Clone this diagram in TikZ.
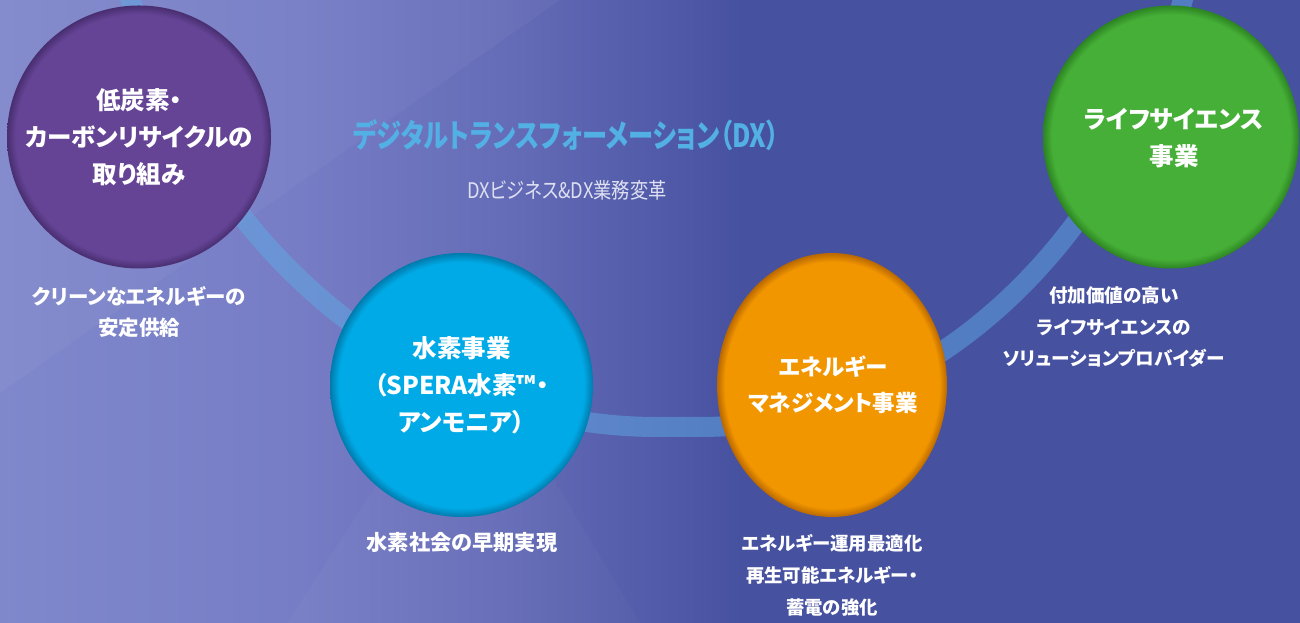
\documentclass[tikz,border=0pt]{standalone}
\usepackage{fontspec}
\usetikzlibrary{shapes.geometric}
\setmainfont{Noto Sans CJK JP}[RawFeature=+palt]
\newfontfamily\condfont{Noto Sans CJK JP}[RawFeature=+palt, FakeStretch=0.79]
\newfontfamily\subfont{Noto Sans CJK JP}[RawFeature=+palt, FakeStretch=0.85]
\definecolor{bgA}{RGB}{128,136,204}
\definecolor{bgB}{RGB}{118,125,197}
\definecolor{bgC}{RGB}{102,109,184}
\definecolor{bgD}{RGB}{70,81,160}
\definecolor{ringc}{RGB}{95,170,228}
\definecolor{titlec}{RGB}{82,176,228}
\definecolor{subc}{RGB}{222,224,242}
\definecolor{cPur}{RGB}{101,68,150}
\definecolor{cPurD}{RGB}{72,46,112}
\definecolor{cBlu}{RGB}{0,170,230}
\definecolor{cBluD}{RGB}{0,122,172}
\definecolor{cOra}{RGB}{242,150,0}
\definecolor{cOraD}{RGB}{185,104,0}
\definecolor{cGre}{RGB}{70,175,55}
\definecolor{cGreD}{RGB}{44,132,34}
\pgfdeclareradialshading{ballpur}{\pgfpoint{0bp}{0bp}}{color(0bp)=(cPur); color(23.3bp)=(cPur); color(25bp)=(cPurD); color(50bp)=(cPurD)}
\pgfdeclareradialshading{ballblu}{\pgfpoint{0bp}{0bp}}{color(0bp)=(cBlu); color(23.3bp)=(cBlu); color(25bp)=(cBluD); color(50bp)=(cBluD)}
\pgfdeclareradialshading{ballora}{\pgfpoint{0bp}{0bp}}{color(0bp)=(cOra); color(23.3bp)=(cOra); color(25bp)=(cOraD); color(50bp)=(cOraD)}
\pgfdeclareradialshading{ballgre}{\pgfpoint{0bp}{0bp}}{color(0bp)=(cGre); color(23.3bp)=(cGre); color(25bp)=(cGreD); color(50bp)=(cGreD)}
\tikzset{
  ball/.style={ellipse, inner sep=0pt, outer sep=0pt, shade},
  balltext/.style={text=white, align=center, inner sep=0pt,
    font=\fontsize{24.5}{37}\selectfont\bfseries},
  lbl/.style={text=white, align=center, inner sep=0pt,
    font=\fontsize{20.5}{31}\selectfont\bfseries},
  ringline/.style={draw=ringc, line width=20pt, opacity=0.5}
}
\begin{document}
\begin{tikzpicture}[x=1pt,y=1pt]
\useasboundingbox (0,0) rectangle (1300,623);
\begin{scope}
\clip (0,0) rectangle (1300,623);
% background
\shade[left color=bgA, right color=bgB] (0,0) rectangle (301,623);
\shade[left color=bgB, right color=bgC] (300,0) rectangle (501,623);
\shade[left color=bgC, right color=bgD] (500,0) rectangle (741,623);
\fill[bgD] (740,0) rectangle (1300,623);
\fill[white, opacity=0.035] (0,623) -- (560,623) -- (0,230) -- cycle;
\fill[white, opacity=0.025] (287,0) -- (470,282) -- (640,0) -- cycle;
% ring
\draw[ringline] (657pt,826pt) ++(195:556pt and 630pt)
  arc[start angle=195, end angle=270, x radius=556pt, y radius=630pt]
  -- (700,196)
  arc[start angle=270, end angle=347, x radius=510pt, y radius=630pt];
% circles
\node[ball, shading=ballpur, minimum width=264pt, minimum height=263pt] (pur) at (139,486) {};
\node[ball, shading=ballblu, minimum width=263pt, minimum height=264pt] (blu) at (461.5,238) {};
\node[ball, shading=ballora, minimum width=230pt, minimum height=264pt] (ora) at (832,238) {};
\node[ball, shading=ballgre, minimum width=256pt, minimum height=263pt] (gre) at (1171,486) {};
\node[balltext] (tpur) at (pur.center) {低炭素・\\カーボンリサイクルの\\取り組み};
\node[balltext] (tblu) at (blu.center) {水素事業\\（SPERA水素™・\\アンモニア）};
\node[balltext, font=\fontsize{22.5}{36}\selectfont\bfseries] (tora) at (833,238) {エネルギー\\マネジメント事業};
\node[balltext] (tgre) at (1174,485) {ライフサイエンス\\事業};
% titles
\node[text=titlec, inner sep=0pt, font=\condfont\bfseries\fontsize{32}{38}\selectfont] (title) at (566,488)
  {デジタルトランスフォーメーション（DX）};
\node[text=subc, inner sep=0pt, font=\subfont\fontsize{21.5}{25}\selectfont] (sub) at (567,433)
  {DXビジネス\&DX業務変革};
% labels
\node[lbl] (lpur) at (139,311) {クリーンなエネルギーの\\安定供給};
\node[lbl, font=\fontsize{21.2}{31}\selectfont\bfseries] (lblu) at (462,80) {水素社会の早期実現};
\node[lbl, font=\fontsize{18.4}{32}\selectfont\bfseries] (lora) at (832,48) {エネルギー運用最適化\\再生可能エネルギー・\\蓄電の強化};
\node[lbl, font=\fontsize{18.6}{31.5}\selectfont\bfseries] (lgre) at (1114,296) {付加価値の高い\\ライフサイエンスの\\ソリューションプロバイダー};
\end{scope}
\end{tikzpicture}
\end{document}
